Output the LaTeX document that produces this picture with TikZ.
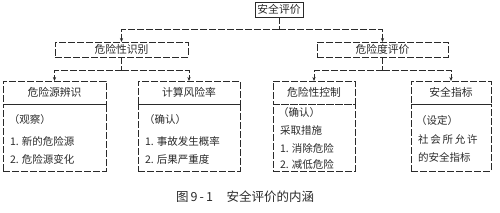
\documentclass[tikz,border=0pt]{standalone}
\usepackage{fontspec}
\setmainfont{Noto Sans CJK SC}
\usetikzlibrary{arrows.meta}
\definecolor{ink}{HTML}{2A2A2A}
\begin{document}
\begin{tikzpicture}[x=1pt,y=-1pt,
  every node/.style={inner sep=0pt,outer sep=0pt,text=ink},
  dbox/.style={draw=ink,line width=0.6pt,dash pattern=on 7pt off 2pt,rectangle},
  sbox/.style={draw=ink,line width=0.7pt,rectangle},
  lab/.style={font=\fontsize{10.8}{12}\selectfont},
  body/.style={font=\fontsize{10.5}{12}\selectfont,anchor=west},
  link/.style={draw=ink,line width=0.6pt,dash pattern=on 7pt off 2pt},
  arr/.style={link,-{Stealth[length=4pt,width=3.2pt]}}]
\useasboundingbox (0,0) rectangle (500,212);
% top
\node[sbox,minimum width=48pt,minimum height=15pt,lab] (top) at (279,9.5) {安全评价};
\node[dbox,minimum width=133pt,minimum height=15pt,lab] (hi) at (121.5,49.5) {危险性识别};
\node[dbox,minimum width=131pt,minimum height=15pt,lab] (hd) at (382.5,49.5) {危险度评价};
% lower headers
\node[dbox,minimum width=103pt,minimum height=23pt,lab] (h1) at (54.5,92.5) {危险源辨识};
\node[dbox,minimum width=102pt,minimum height=23pt,lab] (h2) at (189,92.5) {计算风险率};
\node[dbox,minimum width=82pt,minimum height=23pt,lab] (h3) at (314,92.5) {危险性控制};
\node[dbox,minimum width=80pt,minimum height=23pt,lab] (h4) at (451,92.5) {安全指标};
% bodies
\node[dbox,minimum width=103pt,minimum height=67pt,anchor=north] (b1) at (h1.south) {};
\node[dbox,minimum width=102pt,minimum height=67pt,anchor=north] (b2) at (h2.south) {};
\node[dbox,minimum width=82pt,minimum height=67pt,anchor=north] (b3) at (h3.south) {};
\node[dbox,minimum width=80pt,minimum height=67pt,anchor=north] (b4) at (h4.south) {};
% body texts
\node[body] (t11) at (9,120) {（观察）};
\node[body] (t12) at (10,141) {1. 新的危险源};
\node[body] (t13) at (10,159) {2. 危险源变化};
\node[body] (t21) at (144,120) {（确认）};
\node[body] (t22) at (145,141) {1. 事故发生概率};
\node[body] (t23) at (145,159) {2. 后果严重度};
\node[body] (t31) at (278,113) {（确认）};
\node[body] (t32) at (280,131) {采取措施};
\node[body] (t33) at (280,148) {1. 消除危险};
\node[body] (t34) at (280,164) {2. 减低危险};
\node[body] (t41) at (416,121) {（设定）};
\node[body] (t42) at (418,139) {社\,会\,所\,允\,许};
\node[body] (t43) at (418,157) {的安全指标};
% connectors
\coordinate (j0) at (279,29);
\draw[link] (top.south) -- (j0);
\draw[arr] (j0) -| (hi.north);
\draw[arr] (j0) -| (hd.north);
\coordinate (j1) at (121.5,70);
\draw[link] (hi.south) -- (j1);
\draw[arr] (j1) -| (h1.north);
\draw[arr] (j1) -| (h2.north);
\coordinate (j2) at (382.5,70);
\draw[link] (hd.south) -- (j2);
\draw[arr] (j2) -| (h3.north);
\draw[arr] (j2) -| (h4.north);
% caption
\node[font=\fontsize{12.5}{14}\selectfont,anchor=west] (cap) at (176,197) {图\,9\,-\,1\hspace{1.1em}安全评价的内涵};
\end{tikzpicture}
\end{document}
